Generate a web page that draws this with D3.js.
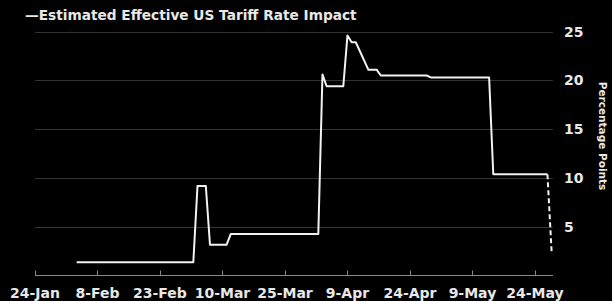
<!DOCTYPE html>
<html><head><meta charset="utf-8">
<script src="https://cdn.jsdelivr.net/npm/d3@7"></script>
<style>
html,body{margin:0;padding:0;background:#000;}
svg{display:block;}
text{font-family:"DejaVu Sans",Verdana,sans-serif;font-weight:bold;fill:#e8e8e8;}
</style></head>
<body>
<svg id="c" width="612" height="301"></svg>
<script>
const title = "—Estimated Effective US Tariff Rate Impact";
const yAxisTitle = "Percentage Points";
const dates = ["2025-02-03","2025-03-03","2025-03-04","2025-03-06","2025-03-07","2025-03-11","2025-03-12",
  "2025-04-02","2025-04-03","2025-04-04","2025-04-08","2025-04-09","2025-04-10","2025-04-11","2025-04-14",
  "2025-04-16","2025-04-17","2025-04-28","2025-04-29","2025-05-13","2025-05-14","2025-05-27"];
const values = [1.4,1.4,9.2,9.2,3.2,3.2,4.3,
  4.3,20.6,19.4,19.4,24.6,23.9,23.9,21.1,
  21.1,20.5,20.5,20.3,20.3,10.4,10.4];
const projDates = ["2025-05-27","2025-05-28"];
const projValues = [10.4,2.5];
const xTickLabels = ["24-Jan","8-Feb","23-Feb","10-Mar","25-Mar","9-Apr","24-Apr","9-May","24-May"];
const yTicks = [5,10,15,20,25];

const parse = d3.utcParse("%Y-%m-%d");
const svg = d3.select("#c");
const x = d3.scaleUtc().domain([parse("2025-01-24"), new Date(Date.UTC(2025,4,28,8))]).range([35,553]);
const y = d3.scaleLinear().domain([0,25]).range([276,31.5]);

// grid
svg.append("g").selectAll("line").data(yTicks).join("line")
  .attr("x1",35).attr("x2",553).attr("y1",d=>Math.round(y(d))+0.5).attr("y2",d=>Math.round(y(d))+0.5)
  .attr("stroke","#333").attr("stroke-width",1);

// y labels
svg.append("g").selectAll("text").data(yTicks).join("text")
  .attr("x",564).attr("y",d=>y(d)).attr("dy","0.36em")
  .attr("font-size",14).text(d=>d);

// x axis
const tickDates = xTickLabels.map(s=>d3.utcParse("%d-%b-%Y")(s+"-2025"));
const xa = svg.append("g").attr("transform","translate(0,275.5)");
xa.append("line").attr("x1",35).attr("x2",553).attr("stroke","#8a8a8a").attr("stroke-width",1);
xa.selectAll("line.t").data(tickDates).join("line").attr("class","t")
  .attr("x1",d=>Math.round(x(d))+0.5).attr("x2",d=>Math.round(x(d))+0.5).attr("y1",0).attr("y2",-5)
  .attr("stroke","#8a8a8a");
svg.append("g").selectAll("text").data(tickDates).join("text")
  .attr("x",d=>x(d)).attr("y",298).attr("text-anchor","middle").attr("font-size",14)
  .text((d,i)=>xTickLabels[i]);

// line
const line = d3.line().x(d=>x(d[0])).y(d=>y(d[1]));
svg.append("path").datum(dates.map((d,i)=>[parse(d),values[i]]))
  .attr("d",line).attr("fill","none").attr("stroke","#f2f2f2").attr("stroke-width",2).attr("stroke-linejoin","round");
svg.append("path").datum(projDates.map((d,i)=>[parse(d),projValues[i]]))
  .attr("d",line).attr("fill","none").attr("stroke","#f2f2f2").attr("stroke-width",2).attr("stroke-dasharray","5,3");

// title
svg.append("text").attr("x",25).attr("y",20).attr("font-size",13.7).text(title);
// y axis title
svg.append("text").attr("transform","translate(599,136) rotate(90)").attr("text-anchor","middle")
  .attr("font-size",10.5).text(yAxisTitle);
</script>
</body></html>
